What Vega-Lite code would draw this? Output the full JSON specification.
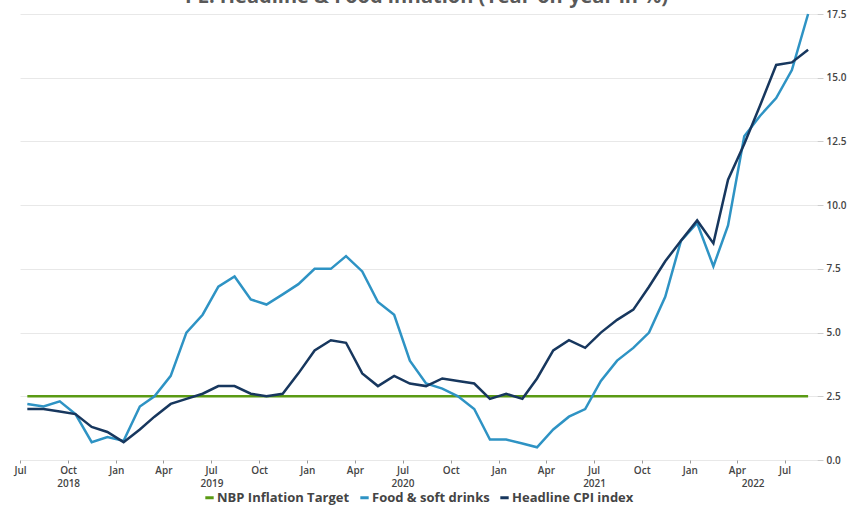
{
  "$schema": "https://vega.github.io/schema/vega-lite/v6.json",
  "width": 797,
  "height": 446,
  "autosize": {"type": "none"},
  "padding": {"left": 20, "top": 14, "right": 33, "bottom": 46},
  "background": "white",
  "title": {
    "text": "PL: Headline & Food inflation (Year-on-year in %)",
    "fontSize": 20,
    "fontWeight": "bold",
    "font": "Open Sans",
    "color": "#595959",
    "anchor": "middle",
    "baseline": "alphabetic",
    "offset": 0,
    "dy": 14,
    "dx": 8
  },
  "data": {
    "values": [
      {"date": "2018-07-15", "food": 2.2, "headline": 2.0, "target": 2.5},
      {"date": "2018-08-15", "food": 2.1, "headline": 2.0, "target": 2.5},
      {"date": "2018-09-15", "food": 2.3, "headline": 1.9, "target": 2.5},
      {"date": "2018-10-15", "food": 1.8, "headline": 1.8, "target": 2.5},
      {"date": "2018-11-15", "food": 0.7, "headline": 1.3, "target": 2.5},
      {"date": "2018-12-15", "food": 0.9, "headline": 1.1, "target": 2.5},
      {"date": "2019-01-15", "food": 0.75, "headline": 0.7, "target": 2.5},
      {"date": "2019-02-15", "food": 2.1, "headline": 1.2, "target": 2.5},
      {"date": "2019-03-15", "food": 2.5, "headline": 1.7, "target": 2.5},
      {"date": "2019-04-15", "food": 3.3, "headline": 2.2, "target": 2.5},
      {"date": "2019-05-15", "food": 5.0, "headline": 2.4, "target": 2.5},
      {"date": "2019-06-15", "food": 5.7, "headline": 2.6, "target": 2.5},
      {"date": "2019-07-15", "food": 6.8, "headline": 2.9, "target": 2.5},
      {"date": "2019-08-15", "food": 7.2, "headline": 2.9, "target": 2.5},
      {"date": "2019-09-15", "food": 6.3, "headline": 2.6, "target": 2.5},
      {"date": "2019-10-15", "food": 6.1, "headline": 2.5, "target": 2.5},
      {"date": "2019-11-15", "food": 6.5, "headline": 2.6, "target": 2.5},
      {"date": "2019-12-15", "food": 6.9, "headline": 3.4, "target": 2.5},
      {"date": "2020-01-15", "food": 7.5, "headline": 4.3, "target": 2.5},
      {"date": "2020-02-15", "food": 7.5, "headline": 4.7, "target": 2.5},
      {"date": "2020-03-15", "food": 8.0, "headline": 4.6, "target": 2.5},
      {"date": "2020-04-15", "food": 7.4, "headline": 3.4, "target": 2.5},
      {"date": "2020-05-15", "food": 6.2, "headline": 2.9, "target": 2.5},
      {"date": "2020-06-15", "food": 5.7, "headline": 3.3, "target": 2.5},
      {"date": "2020-07-15", "food": 3.9, "headline": 3.0, "target": 2.5},
      {"date": "2020-08-15", "food": 3.0, "headline": 2.9, "target": 2.5},
      {"date": "2020-09-15", "food": 2.8, "headline": 3.2, "target": 2.5},
      {"date": "2020-10-15", "food": 2.5, "headline": 3.1, "target": 2.5},
      {"date": "2020-11-15", "food": 2.0, "headline": 3.0, "target": 2.5},
      {"date": "2020-12-15", "food": 0.8, "headline": 2.4, "target": 2.5},
      {"date": "2021-01-15", "food": 0.8, "headline": 2.6, "target": 2.5},
      {"date": "2021-02-15", "food": 0.65, "headline": 2.4, "target": 2.5},
      {"date": "2021-03-15", "food": 0.5, "headline": 3.2, "target": 2.5},
      {"date": "2021-04-15", "food": 1.2, "headline": 4.3, "target": 2.5},
      {"date": "2021-05-15", "food": 1.7, "headline": 4.7, "target": 2.5},
      {"date": "2021-06-15", "food": 2.0, "headline": 4.4, "target": 2.5},
      {"date": "2021-07-15", "food": 3.1, "headline": 5.0, "target": 2.5},
      {"date": "2021-08-15", "food": 3.9, "headline": 5.5, "target": 2.5},
      {"date": "2021-09-15", "food": 4.4, "headline": 5.9, "target": 2.5},
      {"date": "2021-10-15", "food": 5.0, "headline": 6.8, "target": 2.5},
      {"date": "2021-11-15", "food": 6.4, "headline": 7.8, "target": 2.5},
      {"date": "2021-12-15", "food": 8.6, "headline": 8.6, "target": 2.5},
      {"date": "2022-01-15", "food": 9.3, "headline": 9.4, "target": 2.5},
      {"date": "2022-02-15", "food": 7.6, "headline": 8.5, "target": 2.5},
      {"date": "2022-03-15", "food": 9.2, "headline": 11.0, "target": 2.5},
      {"date": "2022-04-15", "food": 12.7, "headline": 12.4, "target": 2.5},
      {"date": "2022-05-15", "food": 13.5, "headline": 13.9, "target": 2.5},
      {"date": "2022-06-15", "food": 14.2, "headline": 15.5, "target": 2.5},
      {"date": "2022-07-15", "food": 15.3, "headline": 15.6, "target": 2.5},
      {"date": "2022-08-15", "food": 17.5, "headline": 16.1, "target": 2.5}
    ]
  },
  "transform": [
    {"fold": ["target", "food", "headline"], "as": ["series", "value"]}
  ],
  "resolve": {"axis": {"x": "independent"}},
  "layer": [
    {
      "mark": {"type": "line", "strokeWidth": 2.5, "clip": false},
      "encoding": {
        "x": {
          "field": "date",
          "type": "temporal",
          "scale": {"domain": ["2018-07-01", "2022-09-01"]},
          "axis": {
            "title": null,
            "orient": "bottom",
            "values": [
              {"year": 2018, "month": 7, "date": 1}, {"year": 2018, "month": 10, "date": 1},
              {"year": 2019, "month": 1, "date": 1}, {"year": 2019, "month": 4, "date": 1},
              {"year": 2019, "month": 7, "date": 1}, {"year": 2019, "month": 10, "date": 1},
              {"year": 2020, "month": 1, "date": 1}, {"year": 2020, "month": 4, "date": 1},
              {"year": 2020, "month": 7, "date": 1}, {"year": 2020, "month": 10, "date": 1},
              {"year": 2021, "month": 1, "date": 1}, {"year": 2021, "month": 4, "date": 1},
              {"year": 2021, "month": 7, "date": 1}, {"year": 2021, "month": 10, "date": 1},
              {"year": 2022, "month": 1, "date": 1}, {"year": 2022, "month": 4, "date": 1},
              {"year": 2022, "month": 7, "date": 1}
            ],
            "labelExpr": "timeFormat(datum.value, '%b')",
            "grid": false,
            "domain": false,
            "ticks": true,
            "tickSize": 3,
            "tickColor": "#999999",
            "labelFont": "Open Sans",
            "labelFontWeight": 600,
            "labelFontSize": 10,
            "labelColor": "#444444",
            "labelPadding": 2,
            "labelFlush": false,
            "labelOverlap": false
          }
        },
        "y": {
          "field": "value",
          "type": "quantitative",
          "scale": {"domain": [0, 17.5], "nice": false},
          "axis": {
            "title": null,
            "orient": "right",
            "values": [0, 2.5, 5, 7.5, 10, 12.5, 15, 17.5],
            "format": ".1f",
            "grid": true,
            "gridColor": "#e8e8e8",
            "domain": false,
            "tickSize": 6,
            "tickColor": "#cccccc",
            "labelFont": "Open Sans",
            "labelFontWeight": 600,
            "labelFontSize": 10,
            "labelColor": "#444444",
            "labelPadding": 3
          }
        },
        "color": {
          "field": "series",
          "type": "nominal",
          "sort": ["target", "food", "headline"],
          "scale": {
            "domain": ["target", "food", "headline"],
            "range": ["#5A9A14", "#2E93C4", "#17375E"]
          },
          "legend": {
            "title": null,
            "orient": "bottom",
            "direction": "horizontal",
            "symbolType": "stroke",
            "symbolStrokeWidth": 3,
            "symbolSize": 70,
            "labelExpr": "datum.value == 'target' ? 'NBP Inflation Target' : datum.value == 'food' ? 'Food & soft drinks' : 'Headline CPI index'",
            "labelFont": "Open Sans",
            "labelFontWeight": 700,
            "labelFontSize": 13,
            "labelColor": "#444444",
            "labelOffset": 1,
            "columnPadding": 4,
            "offset": 3
          }
        }
      }
    },
    {
      "mark": {"type": "line", "opacity": 0},
      "encoding": {
        "x": {
          "field": "date",
          "type": "temporal",
          "axis": {
            "title": null,
            "orient": "bottom",
            "values": [
              {"year": 2018, "month": 10, "date": 1},
              {"year": 2019, "month": 7, "date": 2},
              {"year": 2020, "month": 7, "date": 1},
              {"year": 2021, "month": 7, "date": 2},
              {"year": 2022, "month": 5, "date": 1}
            ],
            "labelExpr": "timeFormat(datum.value, '%Y')",
            "grid": false,
            "domain": false,
            "ticks": false,
            "labelFont": "Open Sans",
            "labelFontWeight": 600,
            "labelFontSize": 10,
            "labelColor": "#444444",
            "labelPadding": 18,
            "labelFlush": false,
            "labelOverlap": false
          }
        },
        "y": {"field": "value", "type": "quantitative"},
        "detail": {"field": "series"}
      }
    }
  ],
  "config": {
    "view": {"stroke": null},
    "legend": {"layout": {"bottom": {"anchor": "middle"}}}
  }
}
